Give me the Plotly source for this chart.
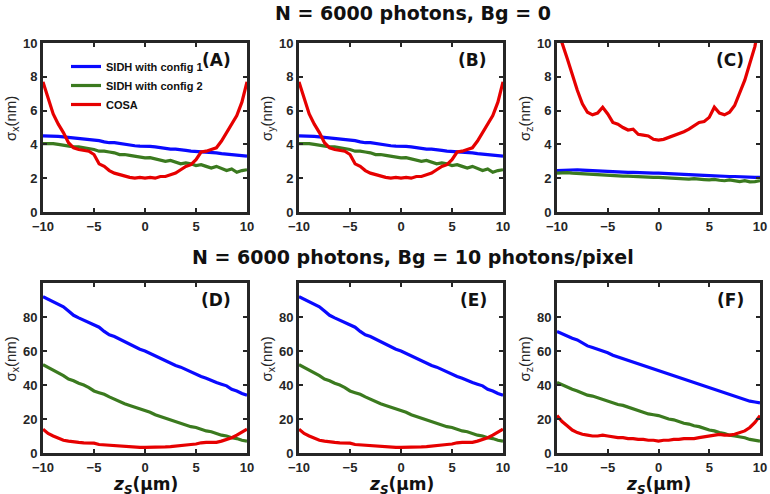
import plotly.graph_objects as go

# ---------------- data ----------------
z_s = [-10, -9.5, -9, -8.5, -8, -7.5, -7, -6.5, -6, -5.5, -5, -4.5, -4, -3.5, -3, -2.5, -2, -1.5, -1, -0.5,
       0, 0.5, 1, 1.5, 2, 2.5, 3, 3.5, 4, 4.5, 5, 5.5, 6, 6.5, 7, 7.5, 8, 8.5, 9, 9.5, 10]

series_names = ["SIDH with config 1", "SIDH with config 2", "COSA"]

# Bg = 0, sigma_x (panel A) and sigma_y (panel B)
sx0_sidh1 = [4.5, 4.5, 4.5, 4.48, 4.45, 4.42, 4.4, 4.35, 4.3, 4.3, 4.28, 4.22, 4.15, 4.1, 4.1, 4.05, 4.02, 3.98, 3.92, 3.9,
             3.9, 3.88, 3.85, 3.8, 3.75, 3.72, 3.72, 3.7, 3.65, 3.6, 3.58, 3.58, 3.55, 3.5, 3.5, 3.45, 3.42, 3.38, 3.35, 3.32, 3.3]
sx0_sidh2 = [4.05, 4.05, 4.05, 4.0, 3.95, 3.9, 3.85, 3.85, 3.8, 3.75, 3.7, 3.6, 3.6, 3.55, 3.5, 3.4, 3.4, 3.35, 3.3, 3.22,
             3.2, 3.22, 3.15, 3.1, 3.0, 3.05, 2.95, 2.85, 2.9, 2.85, 2.75, 2.8, 2.7, 2.6, 2.7, 2.55, 2.45, 2.55, 2.35, 2.45, 2.5]
sx0_cosa = [7.7, 6.8, 5.8, 5.2, 4.7, 4.1, 3.8, 3.7, 3.65, 3.6, 3.4, 2.85, 2.7, 2.45, 2.3, 2.2, 2.1, 2.05, 2.0, 2.05,
            2.0, 2.05, 2.0, 2.1, 2.1, 2.2, 2.3, 2.5, 2.7, 2.8, 3.1, 3.55, 3.6, 3.7, 3.8, 4.2, 4.7, 5.2, 5.7, 6.5, 7.7]

sy0_sidh1 = [4.5, 4.5, 4.5, 4.48, 4.45, 4.42, 4.4, 4.35, 4.3, 4.3, 4.28, 4.22, 4.15, 4.1, 4.1, 4.05, 4.02, 3.98, 3.92, 3.9,
             3.9, 3.88, 3.85, 3.8, 3.75, 3.72, 3.72, 3.7, 3.65, 3.6, 3.58, 3.58, 3.55, 3.5, 3.5, 3.45, 3.42, 3.38, 3.35, 3.32, 3.3]
sy0_sidh2 = [4.05, 4.05, 4.05, 4.0, 3.95, 3.9, 3.85, 3.85, 3.8, 3.75, 3.7, 3.6, 3.6, 3.55, 3.5, 3.4, 3.4, 3.35, 3.3, 3.22,
             3.2, 3.22, 3.15, 3.1, 3.0, 3.05, 2.95, 2.85, 2.9, 2.85, 2.75, 2.8, 2.7, 2.6, 2.7, 2.55, 2.45, 2.55, 2.35, 2.45, 2.5]
sy0_cosa = [7.7, 6.8, 5.8, 5.2, 4.7, 4.1, 3.8, 3.7, 3.65, 3.6, 3.4, 2.85, 2.7, 2.45, 2.3, 2.2, 2.1, 2.05, 2.0, 2.05,
            2.0, 2.05, 2.0, 2.1, 2.1, 2.2, 2.3, 2.5, 2.7, 2.8, 3.1, 3.55, 3.6, 3.7, 3.8, 4.2, 4.7, 5.2, 5.7, 6.5, 7.7]

# Bg = 0, sigma_z (panel C)
sz0_sidh1 = [2.45, 2.47, 2.48, 2.5, 2.5, 2.48, 2.45, 2.45, 2.43, 2.42, 2.4, 2.4, 2.38, 2.36, 2.35, 2.35, 2.33, 2.32, 2.3, 2.3,
             2.3, 2.28, 2.27, 2.25, 2.25, 2.23, 2.2, 2.2, 2.18, 2.17, 2.15, 2.15, 2.12, 2.1, 2.1, 2.1, 2.08, 2.07, 2.05, 2.05, 2.05]
sz0_sidh2 = [2.3, 2.32, 2.33, 2.3, 2.28, 2.25, 2.25, 2.22, 2.23, 2.2, 2.18, 2.15, 2.15, 2.12, 2.12, 2.1, 2.1, 2.08, 2.07, 2.05,
             2.05, 2.03, 2.02, 2.0, 1.98, 1.97, 1.95, 1.97, 1.93, 1.92, 1.9, 1.93, 1.88, 1.85, 1.9, 1.83, 1.8, 1.85, 1.78, 1.8, 1.85]
sz0_cosa = [11.5, 10.0, 9.1, 8.1, 7.2, 6.4, 5.9, 5.75, 5.85, 6.2, 5.8, 5.3, 5.2, 5.0, 4.85, 4.9, 4.6, 4.55, 4.5, 4.3,
            4.25, 4.3, 4.4, 4.55, 4.6, 4.75, 4.9, 5.1, 5.3, 5.35, 5.6, 6.2, 5.85, 5.75, 5.9, 6.3, 7.0, 7.8, 8.8, 9.8, 11.5]

# Bg = 10 photons/pixel, sigma_x (panels D and E)
sx10_sidh1 = [92, 90.5, 89, 87.5, 86, 83.5, 81, 79.5, 78, 76.5, 75, 74, 71.5, 69.5, 68.5, 67, 65.5, 64, 62, 61,
              60, 58.5, 57.5, 55.5, 54, 53, 51.5, 50.5, 49, 47.5, 46, 45, 44, 42.5, 41.5, 40.5, 39.5, 37.5, 36.5, 35, 34]
sx10_sidh2 = [52, 50.5, 49, 47.5, 45.5, 43.5, 42.5, 41, 40, 38.5, 36.5, 35.5, 34.5, 33, 31.5, 30.5, 29, 28, 27, 26,
              25, 24, 22.5, 21.5, 20.5, 19.5, 18.5, 17.5, 16.5, 15.5, 15, 14, 13, 12.5, 11.5, 10.5, 10, 9, 8.5, 7.5, 7]
sx10_cosa = [14, 11.5, 10, 8.5, 7.5, 7, 6.5, 6.2, 6, 6, 5.8, 5, 4.8, 4.3, 4, 3.8, 3.6, 3.5, 3.4, 3.3,
             3.3, 3.3, 3.4, 3.5, 3.6, 3.8, 4, 4.3, 4.6, 5, 5.3, 6, 6.2, 6.2, 6.3, 7, 7.8, 9, 10.5, 12, 14]

# Bg = 10 photons/pixel, sigma_z (panel F)
sz10_sidh1 = [71.5, 70, 68.5, 67.5, 66.5, 64.5, 63, 62, 61, 60, 59, 57.5, 56.5, 55.5, 54.5, 53.5, 52.5, 51.5, 50.5, 49.5,
              48.5, 47.5, 46.5, 45.5, 44.5, 43.5, 42.5, 41.5, 40.5, 39.5, 38.5, 37.5, 36.5, 35.5, 34.5, 33.5, 32.5, 31.5, 30.5, 30, 29.5]
sz10_sidh2 = [41.5, 40, 38.5, 37.5, 36.5, 35, 34, 33.5, 32.5, 31.5, 30.5, 29.5, 28.5, 28, 27, 26, 25, 24, 23, 22.5,
              22, 21, 20, 19.5, 18.5, 17.5, 17, 16, 15.5, 14.5, 13.5, 13, 12, 11.5, 10.5, 10, 9.5, 9, 8, 7.5, 7]
sz10_cosa = [22, 18.5, 16, 13.5, 12, 11, 10.5, 10, 10, 10.5, 10, 9.5, 9, 9, 8.5, 8.5, 8, 8, 7.5, 7.5,
             7, 7.5, 7.5, 8, 8, 8.5, 8.5, 8.5, 9, 9.5, 10, 10.5, 11, 10.5, 10.5, 11, 12, 13, 15, 18, 22]

x_ticks = [-10, -5, 0, 5, 10]
y_ticks_top = [0, 2, 4, 6, 8, 10]
y_ticks_bottom = [0, 20, 40, 60, 80]

panel_labels = ["(A)", "(B)", "(C)", "(D)", "(E)", "(F)"]
y_titles = ["σ<sub>x</sub>(nm)", "σ<sub>y</sub>(nm)", "σ<sub>z</sub>(nm)",
            "σ<sub>x</sub>(nm)", "σ<sub>x</sub>(nm)", "σ<sub>z</sub>(nm)"]
row_titles = ["N = 6000 photons, Bg = 0", "N = 6000 photons, Bg = 10 photons/pixel"]
x_title = "<i>z</i><sub><i>S</i></sub>(μm)"

panels = [
    (sx0_sidh1, sx0_sidh2, sx0_cosa),
    (sy0_sidh1, sy0_sidh2, sy0_cosa),
    (sz0_sidh1, sz0_sidh2, sz0_cosa),
    (sx10_sidh1, sx10_sidh2, sx10_cosa),
    (sx10_sidh1, sx10_sidh2, sx10_cosa),
    (sz10_sidh1, sz10_sidh2, sz10_cosa),
]

# ---------------- style ----------------
W, H = 770, 494
colors = ["#0a0aff", "#3b7a1f", "#e60000"]
frame = "#262626"
tick_font = dict(family="Liberation Sans, Arial", size=13, color=frame, weight="bold")

col_px = [(43, 247), (299, 503), (557, 760)]
row_px = [(43, 212), (283, 453)]

fig = go.Figure()

for i, (s1, s2, s3) in enumerate(panels):
    r, c = divmod(i, 3)
    n = i + 1
    xa = "x" if n == 1 else f"x{n}"
    ya = "y" if n == 1 else f"y{n}"
    for k, ys in enumerate((s1, s2, s3)):
        fig.add_trace(go.Scatter(
            x=z_s, y=ys, mode="lines", name=series_names[k],
            line=dict(color=colors[k], width=3.2),
            xaxis=xa, yaxis=ya, showlegend=(i == 0), legendgroup=series_names[k],
        ))
    x0, x1 = col_px[c]
    y0, y1 = row_px[r]
    axis_common = dict(showline=True, linewidth=3, linecolor=frame, mirror="ticks",
                       ticks="inside", ticklen=4, tickwidth=2, tickcolor=frame,
                       showgrid=False, zeroline=False, tickfont=tick_font,
                       automargin=False, ticklabeloverflow="allow")
    fig.layout[f"xaxis{'' if n == 1 else n}"] = dict(
        domain=[x0 / W, x1 / W], anchor=ya, range=[-10, 10], tickvals=x_ticks,
        **axis_common)
    fig.layout[f"yaxis{'' if n == 1 else n}"] = dict(
        domain=[1 - y1 / H, 1 - y0 / H], anchor=xa,
        range=[0, 10] if r == 0 else [0, 100],
        tickvals=y_ticks_top if r == 0 else y_ticks_bottom,
        **axis_common)
    # panel label
    fig.add_annotation(
        text=panel_labels[i], xref=f"{xa} domain", yref=f"{ya} domain",
        x=0.93, y=0.90, xanchor="right", yanchor="middle", showarrow=False,
        font=dict(family="DejaVu Sans, Verdana", size=17, color="#111111", weight="bold"))
    # y axis title
    fig.add_annotation(
        text=y_titles[i], xref="paper", yref=f"{ya} domain",
        x=(x0 - 32) / W, y=0.55, xanchor="center", yanchor="middle", textangle=-90,
        showarrow=False, font=dict(family="Liberation Sans, Arial", size=15, color=frame))
    # x axis title (bottom row)
    if r == 1:
        fig.add_annotation(
            text=x_title, xref=f"{xa} domain", yref="paper",
            x=0.5, y=1 - 485 / H, xanchor="center", yanchor="middle", showarrow=False,
            font=dict(family="DejaVu Sans, Verdana", size=17, color="#111111", weight="bold"))

for r, t in enumerate(row_titles):
    ypix = [13, 257][r]
    fig.add_annotation(text=t, xref="paper", yref="paper", x=413 / W, y=1 - ypix / H,
                       xanchor="center", yanchor="middle", showarrow=False,
                       font=dict(family="DejaVu Sans, Verdana", size=19, color="#111111", weight="bold"))

fig.update_layout(
    width=W, height=H, margin=dict(l=0, r=0, t=0, b=0),
    paper_bgcolor="white", plot_bgcolor="white",
    legend=dict(x=66 / W, y=1 - 52 / H, xanchor="left", yanchor="top",
                bgcolor="rgba(0,0,0,0)", itemwidth=30, tracegroupgap=0,
                font=dict(family="Liberation Sans, Arial", size=11, color="#111111", weight="bold")),
)

fig.write_html("out.html", config={"displayModeBar": False},
               post_script="document.body.style.margin='0';")
